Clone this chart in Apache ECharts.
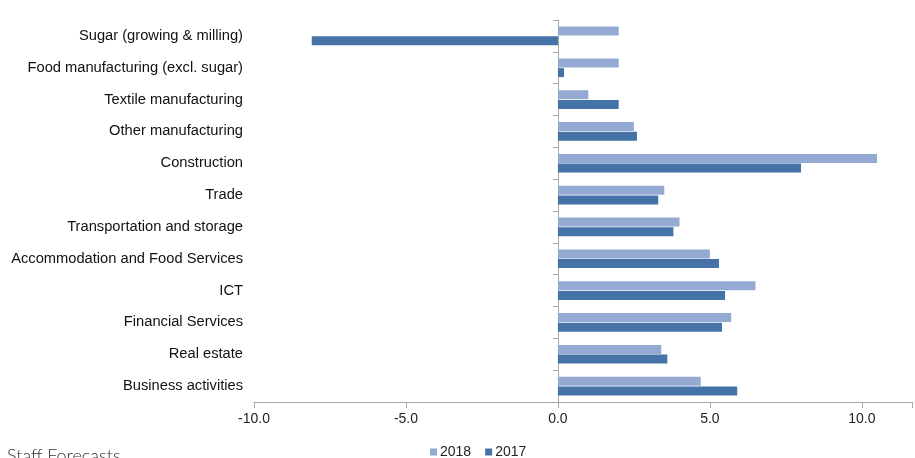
<!DOCTYPE html>
<html>
<head>
<meta charset="utf-8">
<script src="https://cdn.jsdelivr.net/npm/echarts@6/dist/echarts.min.js"></script>
<style>
  html, body { margin: 0; padding: 0; background: #fff; overflow: hidden; }
  #chart { width: 915px; height: 458px; position: relative; }
  #note { position: absolute; left: 7px; top: 444px; font-family: Lato, "Open Sans", sans-serif; font-weight: 300; font-size: 18px; color: #333; white-space: nowrap; }
</style>
</head>
<body>
<div id="chart"></div>
<div id="note">Staff Forecasts</div>
<script>
// Sectors, listed top to bottom
const sectors = [
  'Sugar (growing & milling)',
  'Food manufacturing (excl. sugar)',
  'Textile manufacturing',
  'Other manufacturing',
  'Construction',
  'Trade',
  'Transportation and storage',
  'Accommodation and Food Services',
  'ICT',
  'Financial Services',
  'Real estate',
  'Business activities'
];

// Growth rates (%) per sector
const growth2018 = [2.0, 2.0, 1.0, 2.5, 10.5, 3.5, 4.0, 5.0, 6.5, 5.7, 3.4, 4.7];
const growth2017 = [-8.1, 0.2, 2.0, 2.6, 8.0, 3.3, 3.8, 5.3, 5.5, 5.4, 3.6, 5.9];

// Value-axis tick labels
const tickLabels = ['-10.0', '-5.0', '0.0', '5.0', '10.0'];

const chart = echarts.init(document.getElementById('chart'), null, { renderer: 'canvas' });
const font = '"Liberation Sans", Arial, sans-serif';
const axisGray = '#a6a6a6';

chart.setOption({
  animation: false,
  textStyle: { fontFamily: font },
  grid: { left: 254, right: 0, top: 20, bottom: 56, containLabel: false },
  legend: {
    data: ['2018', '2017'],
    top: 440,
    left: 425,
    itemWidth: 7,
    itemHeight: 7,
    itemGap: 14,
    icon: 'rect',
    textStyle: { fontFamily: font, fontSize: 14, color: '#222', padding: [0, 0, 0, -2] }
  },
  xAxis: {
    type: 'value',
    min: -10,
    max: 11.65,
    interval: 5,
    axisLine: { show: true, onZero: false, lineStyle: { color: axisGray } },
    axisTick: { show: true, length: 6, lineStyle: { color: axisGray } },
    splitLine: { show: false },
    axisLabel: {
      fontSize: 14, color: '#222', margin: 10,
      formatter: v => {
        const k = (v + 10) / 5;
        return (Number.isInteger(k) && tickLabels[k]) ? tickLabels[k] : '';
      }
    }
  },
  yAxis: [
    {
      type: 'category',
      data: sectors,
      inverse: true,
      axisLine: { show: true, onZero: true, lineStyle: { color: axisGray } },
      axisTick: { show: true, length: 5, lineStyle: { color: axisGray } },
      axisLabel: { show: false }
    },
    {
      type: 'category',
      data: sectors,
      inverse: true,
      position: 'left',
      axisLine: { show: false, onZero: false },
      axisTick: { show: false },
      axisLabel: { show: true, fontSize: 14.7, color: '#111', margin: 11, padding: [2, 0, 0, 0] }
    }
  ],
  series: [
    {
      name: '2018', type: 'bar', yAxisIndex: 0, data: growth2018,
      barWidth: 9, barGap: '8%',
      itemStyle: { color: '#95aad2' }
    },
    {
      name: '2017', type: 'bar', yAxisIndex: 0, data: growth2017,
      barWidth: 9, barGap: '8%',
      itemStyle: { color: '#4573a7' }
    }
  ]
});
</script>
</body>
</html>
